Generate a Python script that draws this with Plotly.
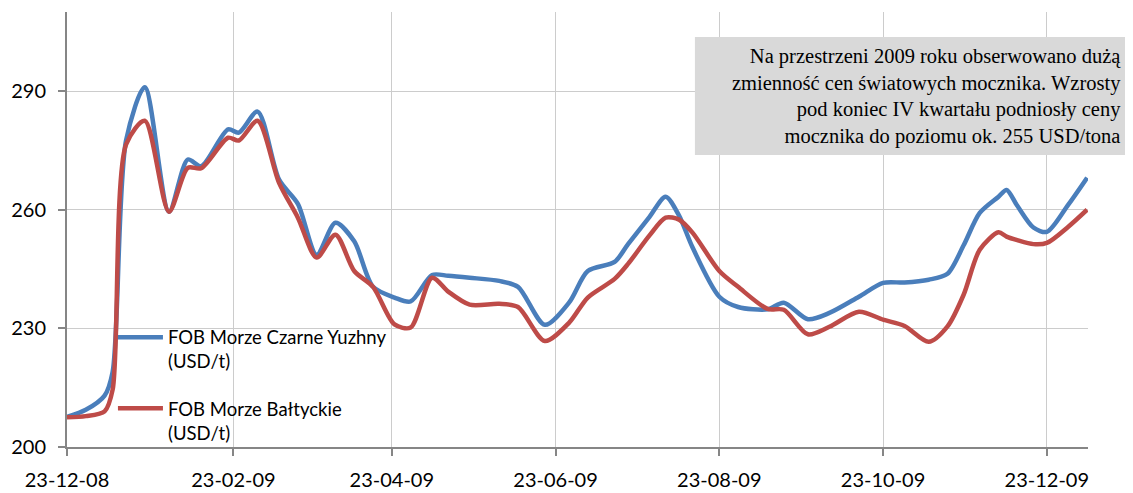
import plotly.graph_objects as go

dates = [
    "2008-12-23", "2008-12-30", "2009-01-06", "2009-01-09", "2009-01-14", "2009-01-21",
    "2009-01-30", "2009-02-06", "2009-02-11", "2009-02-21", "2009-02-25", "2009-03-04",
    "2009-03-12", "2009-03-19", "2009-03-26", "2009-04-02", "2009-04-09", "2009-04-16",
    "2009-04-24", "2009-04-30", "2009-05-08", "2009-05-14", "2009-05-22", "2009-06-02",
    "2009-06-09", "2009-06-19", "2009-06-28", "2009-07-05", "2009-07-15", "2009-07-20",
    "2009-07-28", "2009-08-03", "2009-08-08", "2009-08-13", "2009-08-23", "2009-08-30",
    "2009-09-10", "2009-09-16", "2009-09-25", "2009-10-03", "2009-10-14", "2009-10-23",
    "2009-10-31", "2009-11-09", "2009-11-16", "2009-11-22", "2009-11-28", "2009-12-05",
    "2009-12-08", "2009-12-12", "2009-12-18", "2009-12-23", "2009-12-31", "2010-01-07",
]

black_sea = [
    207.6, 209.4, 213.0, 219.0, 277.5, 291.0,
    259.5, 272.7, 271.0, 280.3, 279.5, 284.8,
    267.6, 261.5, 248.6, 256.7, 252.0, 240.5,
    237.8, 236.8, 243.5, 243.3, 242.8, 242.0,
    240.5, 230.9, 236.5, 244.5, 246.8, 251.3,
    258.2, 263.3, 258.5, 250.5, 238.0, 235.4,
    234.8, 236.5, 232.3, 233.9, 238.0, 241.5,
    241.6, 242.3, 243.8, 251.0, 259.2, 263.3,
    265.0, 261.0, 255.5, 254.4, 261.3, 268.1,
]

baltic = [
    207.5, 207.8, 209.0, 214.5, 276.5, 282.5,
    259.5, 270.6, 270.5, 278.2, 277.5, 282.5,
    266.8, 258.0, 247.9, 253.7, 244.5, 240.5,
    231.0, 230.2, 242.8, 239.3, 236.0, 236.2,
    235.4, 226.8, 231.4, 237.8, 242.5, 246.3,
    253.5, 258.0, 257.5, 254.2, 244.5, 240.5,
    234.9, 234.7, 228.5, 230.4, 234.2, 232.2,
    230.6, 226.6, 230.5, 238.5, 249.9, 254.3,
    253.2, 252.3, 251.3, 251.6, 255.7, 260.0,
]

tick_dates = ["2008-12-23", "2009-02-23", "2009-04-23", "2009-06-23",
              "2009-08-23", "2009-10-23", "2009-12-23"]
tick_labels = ["23-12-08", "23-02-09", "23-04-09", "23-06-09",
               "23-08-09", "23-10-09", "23-12-09"]
y_ticks = [200, 230, 260, 290]

series_names = ["FOB Morze Czarne Yuzhny<br>(USD/t)", "FOB Morze Bałtyckie<br>(USD/t)"]
note_text = ("Na przestrzeni 2009 roku obserwowano dużą<br>"
             "zmienność cen światowych mocznika. Wzrosty<br>"
             "pod koniec IV kwartału podniosły ceny<br>"
             "mocznika do poziomu ok. 255 USD/tona")

fig = go.Figure()
fig.add_trace(go.Scatter(x=dates, y=black_sea, mode="lines", name=series_names[0],
                         legendgroup="a",
                         line=dict(color="#4A7EBB", width=4.5, shape="spline", smoothing=0.8)))
fig.add_trace(go.Scatter(x=dates, y=baltic, mode="lines", name=series_names[1],
                         legendgroup="b",
                         line=dict(color="#BE4B48", width=4.5, shape="spline", smoothing=0.8)))

axis_font = dict(family="Lato, Open Sans, sans-serif", size=20, color="#000000")

fig.update_xaxes(
    type="date",
    range=["2008-12-23", "2010-01-07 08:00"],
    tickvals=tick_dates, ticktext=tick_labels,
    showgrid=True, gridcolor="#cccccc", gridwidth=1,
    showline=True, linecolor="#868686", linewidth=2,
    ticks="outside", ticklen=7, tickcolor="#868686", tickwidth=1.5,
    tickfont=axis_font, ticklabelstandoff=7,
    zeroline=False, automargin=False,
)
fig.update_yaxes(
    range=[200, 310],
    tickvals=y_ticks,
    showgrid=True, gridcolor="#cccccc", gridwidth=1,
    showline=True, linecolor="#868686", linewidth=2,
    ticks="outside", ticklen=7, tickcolor="#868686", tickwidth=1.5,
    tickfont=axis_font, ticklabelstandoff=8,
    zeroline=False, automargin=False,
)

fig.add_shape(type="rect", xref="paper", yref="paper",
              x0=0.615, x1=1.05, y0=0.671, y1=0.9425,
              fillcolor="#D9D9D9", line=dict(width=0), layer="above")
fig.add_annotation(xref="paper", yref="paper", x=1.034, y=0.806,
                   xanchor="right", yanchor="middle", align="right",
                   text=note_text, showarrow=False,
                   font=dict(family="Liberation Serif, Times New Roman, serif", size=20.5,
                             color="#000000"))

fig.update_layout(
    width=1125, height=485,
    margin=dict(l=59, r=45, t=4, b=46, autoexpand=False),
    paper_bgcolor="white", plot_bgcolor="white",
    showlegend=True,
    legend=dict(x=0.045, y=0.295, xanchor="left", yanchor="top",
                bgcolor="rgba(0,0,0,0)", valign="top",
                font=dict(family="Lato, Open Sans, sans-serif", size=18.5, color="#000000"),
                tracegroupgap=20, itemwidth=45),
)

fig.write_html("out.html")
